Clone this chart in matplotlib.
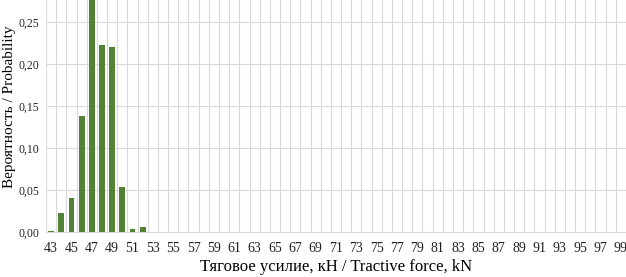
import numpy as np
import matplotlib
matplotlib.use('Agg')
import matplotlib.pyplot as plt

# Tractive force categories (kN) and probabilities
forces = list(range(43, 100))
probabilities = [0.001, 0.022, 0.040, 0.138, 0.294, 0.223, 0.220, 0.053, 0.003, 0.006] + [0.0] * (len(forces) - 10)
y_ticks = [0.00, 0.05, 0.10, 0.15, 0.20, 0.25]

plt.rcParams['font.family'] = ['Liberation Serif', 'DejaVu Serif']

fig = plt.figure(figsize=(6.26, 2.77), dpi=100)
ax = fig.add_axes([0.0735, 0.1625, 0.9265, 0.8375])

x = np.arange(len(forces))
ax.bar(x, probabilities, width=0.57, color='#548235', zorder=3)

ax.set_xlim(-0.5, len(forces) - 0.5)
ax.set_ylim(0, 0.276)

# category boundaries as vertical grid
for b in np.arange(-0.5, len(forces), 1.0):
    ax.axvline(b, color='#d9d9d9', lw=0.8, zorder=1)
for t in y_ticks[1:]:
    ax.axhline(t, color='#d9d9d9', lw=0.8, zorder=1)

ax.set_xticks(x[::2])
ax.set_xticklabels([str(f) for f in forces[::2]], fontsize=10)
ax.set_yticks(y_ticks)
ax.set_yticklabels(['{:.2f}'.format(t).replace('.', ',') for t in y_ticks], fontsize=8.5)
ax.tick_params(length=0, pad=5, colors='#222222')
ax.tick_params(axis='x', pad=7)

for side in ['top', 'right', 'left']:
    ax.spines[side].set_visible(False)
ax.spines['bottom'].set_color('#d9d9d9')

ax.set_xlabel('Тяговое усилие, кН / Tractive force, kN', fontsize=12, labelpad=3)
ax.set_ylabel('Вероятность / Probability', fontsize=11)
ax.yaxis.set_label_coords(-0.051, 0.54)

fig.savefig('out.png', dpi=100)
